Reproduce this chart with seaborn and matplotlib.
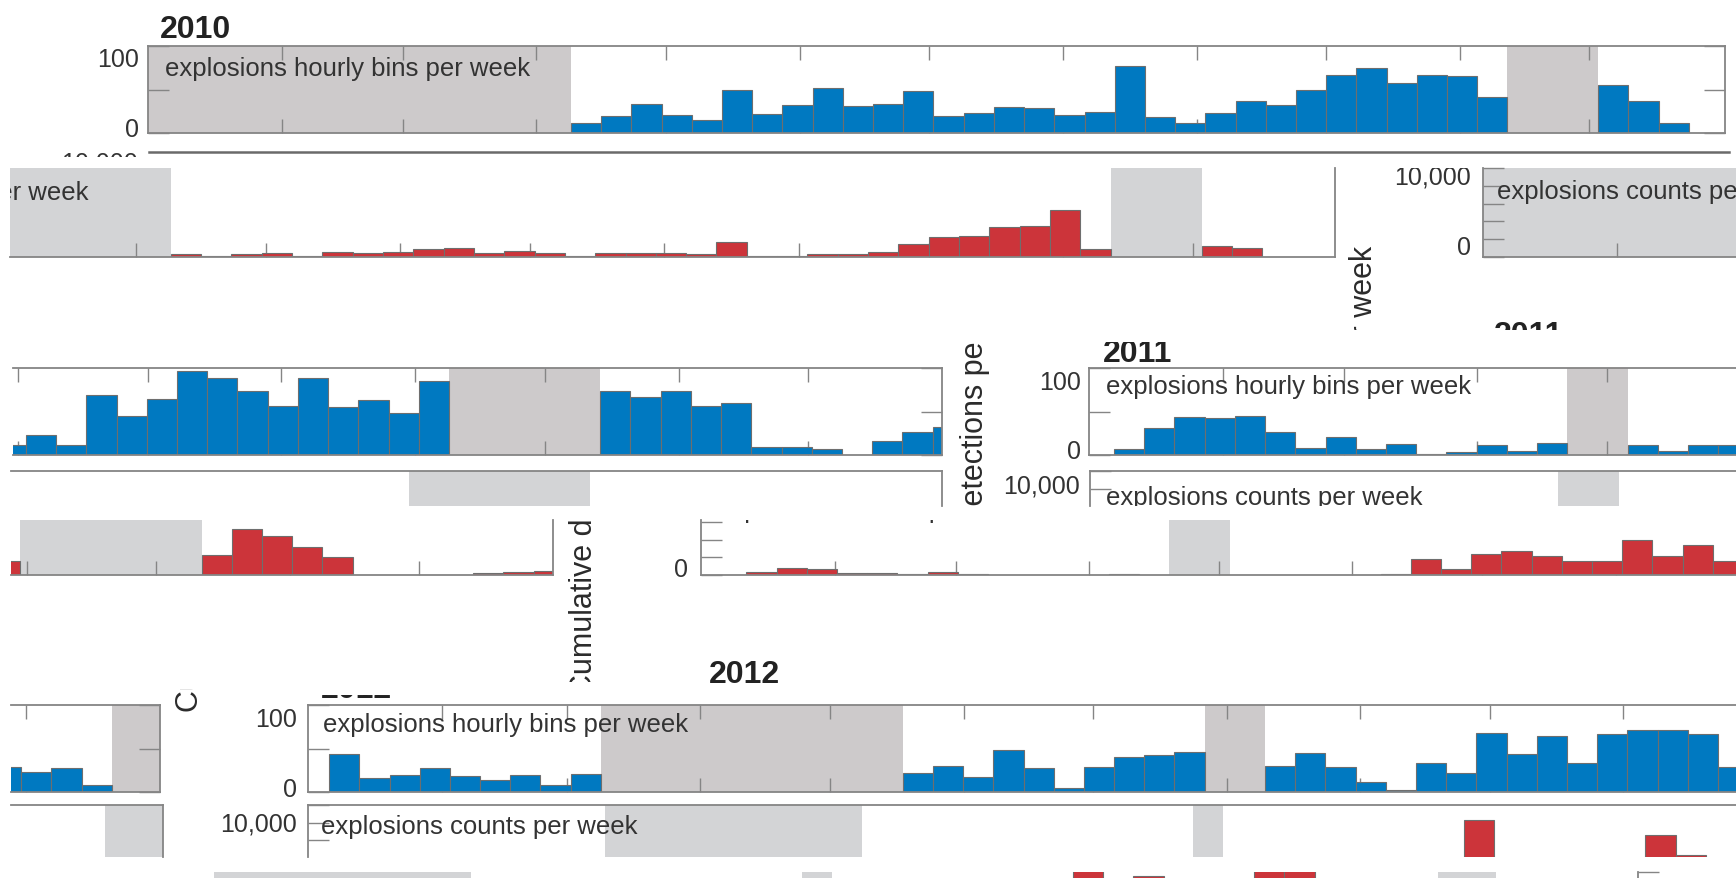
import numpy as np
import pandas as pd
import matplotlib
matplotlib.use("Agg")
import matplotlib.pyplot as plt
import seaborn as sns
from matplotlib.transforms import Bbox, TransformedBbox

sns.set_theme(style="white")
plt.rcParams["font.family"] = ["Liberation Sans", "DejaVu Sans"]

# ---------------------------------------------------------------------------
# Weekly data (None = week without data, drawn as a shaded block)
# ---------------------------------------------------------------------------
hourly_2010 = ([None] * 14 +
               [12, 19, 33, 21, 15, 49, 22, 32, 52, 31, 33, 48, 19, 23, 30, 28.5,
                21, 24, 77, 18, 11, 23, 37, 32, 50, 67, 75, 58, 67, 66, 41] +
               [None] * 3 + [55, 37, 12])
counts_2010 = ([None] * 14 +
               [375, 120, 340, 410, 120, 600, 410, 600, 860, 1010, 490, 640, 410,
                150, 490, 490, 410, 300, 1650, 100, 100, 300, 375, 520, 1460, 2280,
                2360, 3370, 3480, 5320, 940] +
               [None] * 3 + [1200, 1050])
hourly_2011 = ([6.5, 31.5, 44, 42, 45, 27, 7.7, 21, 6.5, 13, 0.8, 3.5, 11, 4.6, 14] +
               [None] * 2 + [11, 4.6, 12, 12] +
               [23, 12, 69, 45, 64, 97, 89, 73, 56, 89, 55, 63, 48, 85] +
               [None] * 5 + [74, 67, 74, 56, 60, 9, 9, 6.5, 0, 16, 26, 32])
counts_2011 = ([50, 380, 830, 720, 260, 230, 80, 300, 110, 0, 0, 40, 0, 110, 0] +
               [None] * 2 +
               [0, 0, 40, 40, 40, 110, 1780, 720, 2420, 2760, 2120, 1590, 1550,
                3940, 2120, 3440, 1560] +
               [None] * 6 + [2300, 5230, 4470, 3220, 2080, 0, 0, 0, 0, 190, 300, 490])
hourly_2012 = ([43.7, 16, 19.8, 27.4, 17.9, 14, 20, 8.4, 20.5] + [None] * 10 +
               [21.7, 30, 17.5, 48, 28, 4.6, 29, 40, 42.6, 46.4] + [None] * 2 +
               [30.4, 44.9, 28.5, 11.8, 2.5, 33.5, 21.7, 67.7, 43.7, 63.9, 33.5,
                66.5, 70.7, 70.7, 67, 29, 23, 27.6, 8.4] + [None] * 2)
counts_2012_weeks = [38, 40, 44, 45]
counts_2012 = [8300, 3510, 6600, 4350]
counts_2012_gaps = [(9.83, 18.34), (29.3, 30.3), (50.37, 52.29)]

# first bin edge of each weekly series (weeks since 1 January)
ORIGIN = {"h2010": 0.0, "c2010": 0.0, "h2011": 0.83, "c2011": 0.5,
          "h2012": 0.7, "c2012": 0.28}

HOURLY_LABEL = "explosions hourly bins per week"
COUNTS_LABEL = "explosions counts per week"
YLABEL = "Cumulative detections per week"

# ---------------------------------------------------------------------------
W, H = 1736, 879
BLUE, RED = "#0079C1", "#CC343A"
GAP_H, GAP_C = "#CDCACB", "#D3D4D6"
SPINE = "#858585"
BAR_EDGE = "#6E6E6E"
TXT = "#333333"
LABEL_SIZE = 18.5

fig = plt.figure(figsize=(W / 100, H / 100), dpi=100)
fig.patch.set_facecolor("white")


def clip_to(artist, box):
    x0, y0, x1, y1 = box
    bb = Bbox.from_extents(x0 / W, 1 - y1 / H, x1 / W, 1 - y0 / H)
    artist.set_clip_box(TransformedBbox(bb, fig.transFigure))
    artist.set_clip_on(True)


def ptext(x, y, s, clip=None, **kw):
    kw.setdefault("color", TXT)
    kw.setdefault("fontsize", 18)
    kw.setdefault("va", "baseline")
    t = fig.text(x / W, 1 - y / H, s, **kw)
    if clip is not None:
        clip_to(t, clip)
    return t


def month_ticks(leap):
    days = [31, 29 if leap else 28, 31, 30, 31, 30, 31, 31, 30, 31, 30]
    return np.cumsum(days) / 7.0


def gap_spans(values, origin):
    spans, start = [], None
    for k, v in enumerate(list(values) + [0]):
        if v is None and start is None:
            start = k
        elif v is not None and start is not None:
            spans.append((origin + start, origin + k))
            start = None
    return spans


def draw_hist(ax, weeks, values, origin, color):
    """Weekly bars: one bin per week, starting at `origin`."""
    df = pd.DataFrame({"week": np.asarray(weeks, float) + origin + 0.5,
                       "value": np.asarray(values, float)})
    edges = [origin + k for k in range(0, 54)]
    sns.histplot(data=df, x="week", weights="value", bins=edges, ax=ax,
                 color=color, alpha=1, edgecolor=BAR_EDGE, linewidth=0.8,
                 zorder=2)


def panel(rect, xlim, ylim, sides, kind, leap=False, series=None, origin=0.0,
          gaps=(), bars_x=None):
    x0, y0, x1, y1 = rect
    ax = fig.add_axes([x0 / W, 1 - y1 / H, (x1 - x0) / W, (y1 - y0) / H])
    ax.set_facecolor("none")
    hourly = kind == "hourly"
    color = BLUE if hourly else RED
    gcol = GAP_H if hourly else GAP_C
    for a, b in gaps:
        ax.axvspan(a, b, color=gcol, lw=0, zorder=0.5)
    if series is not None:
        if bars_x is None:
            weeks = [k for k, v in enumerate(series) if v is not None]
            vals = [v for v in series if v is not None]
        else:
            weeks, vals = bars_x, series
        draw_hist(ax, weeks, vals, origin, color)
    ax.set_xlabel("")
    ax.set_ylabel("")
    # ticks first, then the view window (set_*ticks would widen the limits)
    ax.set_xticks(month_ticks(leap))
    if hourly:
        ax.set_yticks([0, 50, 100])
    else:
        ax.set_yticks(np.arange(0, 10001, 2000))
    ax.set_xlim(*xlim)
    ax.set_ylim(*ylim)
    # the count panels only carry ticks on their left and bottom axes
    ax.tick_params(axis="x", direction="in", length=10, width=1, color=SPINE,
                   top=("t" in sides) and hourly, bottom="b" in sides,
                   labelbottom=False, labeltop=False)
    ax.tick_params(axis="y", direction="in", length=15, width=1, color=SPINE,
                   left="l" in sides, right=("r" in sides) and hourly,
                   labelleft=False, labelright=False)
    for name in ("left", "right", "top", "bottom"):
        sp = ax.spines[name]
        sp.set_visible(name[0] in sides)
        sp.set_color(SPINE)
        sp.set_linewidth(1.3)
    ax.grid(False)
    return ax


def ylabel_piece(x, y_start, clip):
    ptext(x, y_start, YLABEL, clip=clip, rotation=90, rotation_mode="anchor",
          ha="left", va="center", fontsize=22, color="#2b2b2b")


def year_title(x, y, s, clip=None):
    ptext(x, y, s, clip=clip, fontsize=23, fontweight="bold", color="#222222")


g_h2010 = gap_spans(hourly_2010, ORIGIN["h2010"])
g_c2010 = gap_spans(counts_2010, ORIGIN["c2010"])
g_h2011 = gap_spans(hourly_2011, ORIGIN["h2011"])
g_c2011 = gap_spans(counts_2011, ORIGIN["c2011"])
g_h2012 = gap_spans(hourly_2012, ORIGIN["h2012"])

# ---------------------------------------------------------------- 2010 -----
year_title(160, 38, "2010")
panel((148, 47, 1725, 134), (0, 52.2), (0, 100), "ltrb", "hourly",
      series=hourly_2010, origin=ORIGIN["h2010"], gaps=g_h2010)
ptext(165, 76, HOURLY_LABEL, fontsize=LABEL_SIZE)
ptext(139, 67, "100", ha="right")
ptext(139, 137, "0", ha="right")

edge = panel((149, 153, 1729, 158), (0, 52.3), (9430, 10000), "t", "counts")
edge.spines["top"].set_color("#6a6a6a")
edge.spines["top"].set_linewidth(1.8)
edge.tick_params(length=0)
ptext(138, 170, "10,000", ha="right", clip=(40, 148, 145, 157.5))

b_rect = (10, 169, 1335, 258)
panel(b_rect, (8.7, 52.4), (0, 10000), "rb", "counts",
      series=counts_2010, origin=ORIGIN["c2010"], gaps=g_c2010)
ptext(89, 200, COUNTS_LABEL, ha="right", clip=b_rect, fontsize=LABEL_SIZE)

c_rect = (1483, 169, 1736, 258)
panel(c_rect, (0, 8.38), (0, 10000), "lb", "counts",
      series=counts_2010, origin=ORIGIN["c2010"], gaps=g_c2010)
ptext(1497, 199, COUNTS_LABEL, clip=c_rect, fontsize=LABEL_SIZE)
ptext(1471, 185, "10,000", ha="right", clip=(1380, 169, 1480, 200))
ptext(1471, 255, "0", ha="right")

ylabel_piece(1364, 677, (1330, 169, 1400, 331))
year_title(1494, 344, "2011", clip=(1480, 318, 1600, 331))

# ---------------------------------------------------------------- 2011 -----
year_title(1103, 362, "2011", clip=(1090, 343, 1200, 366))
ylabel_piece(975, 683, (940, 343, 1012, 507))

panel((12.6, 369, 942, 456), (21.39, 52.14), (0, 100), "trb", "hourly",
      series=hourly_2011, origin=ORIGIN["h2011"], gaps=g_h2011)
panel((1089, 369, 1736, 456), (0, 21.42), (0, 100), "ltb", "hourly",
      series=hourly_2011, origin=ORIGIN["h2011"], gaps=g_h2011)
ptext(1106, 394, HOURLY_LABEL, fontsize=LABEL_SIZE)
ptext(1081, 390, "100", ha="right")
ptext(1081, 459, "0", ha="right")

panel((11, 472, 942, 507), (21.31, 52.14), (6020, 10000), "tr", "counts",
      series=counts_2011, origin=ORIGIN["c2011"], gaps=g_c2011)
i_rect = (1090, 472, 1736, 507)
panel(i_rect, (0, 21.39), (6020, 10000), "lt", "counts",
      series=counts_2011, origin=ORIGIN["c2011"], gaps=g_c2011)
ptext(1106, 505, COUNTS_LABEL, clip=i_rect, fontsize=LABEL_SIZE)
ptext(1080, 494, "10,000", ha="right")

ylabel_piece(584, 696, (550, 520, 620, 683))
panel((11, 521, 553, 576), (34.19, 52.14), (0, 6250), "rb", "counts",
      series=counts_2011, origin=ORIGIN["c2011"], gaps=g_c2011)
panel((701, 521, 1736, 576), (0, 34.27), (0, 6250), "lb", "counts",
      series=counts_2011, origin=ORIGIN["c2011"], gaps=g_c2011)
ptext(717, 518, COUNTS_LABEL, clip=(701, 521, 1110, 527), fontsize=LABEL_SIZE)
ptext(688, 577, "0", ha="right")

# ---------------------------------------------------------------- 2012 -----
year_title(709, 683, "2012")
year_title(321, 697.5, "2012", clip=(300, 695.5, 420, 699))
ylabel_piece(190, 712, (160, 690, 220, 720))

panel((11, 706, 160, 793), (47.36, 52.29), (0, 100), "trb", "hourly", leap=True,
      series=hourly_2012, origin=ORIGIN["h2012"], gaps=g_h2012)
panel((308, 706, 1736, 793), (0, 47.3), (0, 100), "ltb", "hourly", leap=True,
      series=hourly_2012, origin=ORIGIN["h2012"], gaps=g_h2012)
ptext(323, 732, HOURLY_LABEL, fontsize=LABEL_SIZE)
ptext(297, 727, "100", ha="right")
ptext(297, 797, "0", ha="right")

panel((11, 806, 163, 858), (47.26, 52.29), (4090, 10000), "tr", "counts", leap=True,
      series=counts_2012, origin=ORIGIN["c2012"], gaps=counts_2012_gaps,
      bars_x=counts_2012_weeks)
m_rect = (308, 806, 1736, 858)
panel(m_rect, (0, 47.28), (4090, 10000), "lt", "counts", leap=True,
      series=counts_2012, origin=ORIGIN["c2012"], gaps=counts_2012_gaps,
      bars_x=counts_2012_weeks)
ptext(321, 834, COUNTS_LABEL, clip=m_rect, fontsize=LABEL_SIZE)
ptext(297, 832, "10,000", ha="right")

panel((0, 873, 1496, 879), (2.75, 52.29), (3320, 4000), "", "counts", leap=True,
      series=counts_2012, origin=ORIGIN["c2012"], gaps=counts_2012_gaps,
      bars_x=counts_2012_weeks)
panel((1638, 873, 1736, 879), (0, 3.25), (3320, 4000), "l", "counts", leap=True)

fig.savefig("out.png", dpi=100, facecolor="white")
